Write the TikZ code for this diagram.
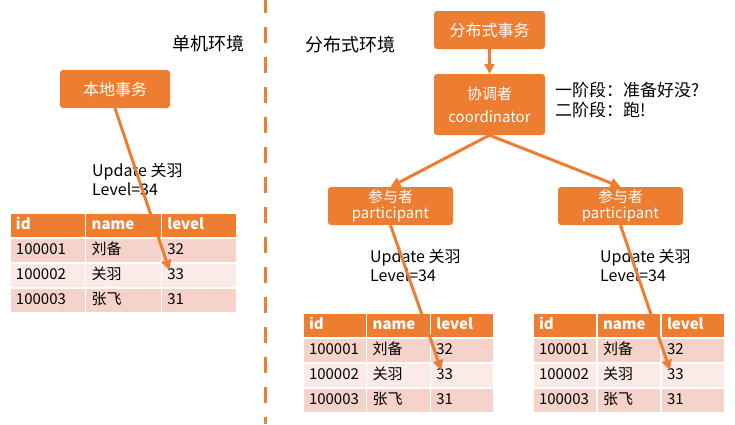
\documentclass[tikz,border=0pt]{standalone}
\usepackage{fontspec}
\setmainfont{Noto Sans CJK SC}
\usepackage{tikz}
\usetikzlibrary{positioning,arrows.meta,calc}

\definecolor{orange1}{HTML}{ED7D31}
\definecolor{rowA}{HTML}{F5D3CA}
\definecolor{rowB}{HTML}{FBEAE6}

% one table of heroes: name, left, top, column width, text width
\newcommand{\herotable}[5]{%
  \foreach \r/\a/\b/\c/\s in {0/id/name/level/hdrcell, 1/100001/刘备/32/rowa,
                              2/100002/关羽/33/rowb, 3/100003/张飞/31/rowa}{
    \node[cell, \s, minimum width=#4, text width=#5] (#1-\r-1) at ({#2}, {#3+\r*25}) {\a};
    \node[cell, \s, minimum width=#4, text width=#5, right=0pt of #1-\r-1] (#1-\r-2) {\b};
    \node[cell, \s, minimum width=#4, text width=#5, right=0pt of #1-\r-2] (#1-\r-3) {\c};
  }}

\begin{document}
\begin{tikzpicture}[
  x=1pt, y=-1pt,
  font=\fontsize{16}{19}\selectfont,
  box/.style={fill=orange1, rounded corners=3pt, text=white, align=center,
              minimum width=111, minimum height=38, inner sep=2pt},
  cell/.style={anchor=north west, draw=white, line width=1.5, minimum height=25,
               inner xsep=6, inner ysep=0, outer sep=0, align=left,
               text height=11, text depth=3,
               font=\fontsize{15}{17}\selectfont},
  hdrcell/.style={fill=orange1, text=white, font=\bfseries\fontsize{15}{17}\selectfont},
  rowa/.style={fill=rowA},
  rowb/.style={fill=rowB},
  arr/.style={-{Triangle[length=10pt,width=10pt]}, line width=3, orange1},
  note/.style={anchor=west, align=left, inner sep=0},
  envlabel/.style={note, font=\fontsize{18}{20}\selectfont},
]
\useasboundingbox (0,0) rectangle (735,424);

% divider
\draw[orange1, line width=3, dash pattern=on 16pt off 14pt, dash phase=3pt]
  (265.5,0) -- (265.5,424);

\node[envlabel] (single) at (172,44) {单机环境};
\node[envlabel] (distrib) at (305,45) {分布式环境};

% single machine
\node[box, minimum width=110] (local) at (115,89) {本地事务};
\node[note] (lupd) at (92,179) {Update 关羽\\Level=34};
\herotable{L}{10}{213}{75.7}{63.7}
\coordinate (ltip) at ($(L-2-3.north west)+(8,7)$);
\draw[arr] (local.south) -- (ltip);

% distributed
\node[box] (dist) at (489.5,30) {分布式事务};
\node[box, minimum height=61, font=\fontsize{15}{18}\selectfont] (coord) at (489.5,104.5)
  {协调者\\[5pt]coordinator};
\node[note, font=\fontsize{17}{20}\selectfont] (phase) at (555,100)
  {一阶段：准备好没?\\二阶段：跑!};
\node[box, minimum width=125, font=\fontsize{15}{16}\selectfont] (p1) at (390.5,206)
  {参与者\\participant};
\node[box, minimum width=125, font=\fontsize{15}{16}\selectfont] (p2) at (620.5,206)
  {参与者\\participant};
\draw[arr] (dist.south) -- (coord.north);
\draw[arr] (coord.south) -- (p1.north);
\draw[arr] (coord.south) -- (p2.north);

\node[note] (mupd) at (370,265) {Update 关羽\\Level=34};
\node[note] (rupd) at (600,265) {Update 关羽\\Level=34};
\herotable{M}{303}{313}{63.7}{51.7}
\herotable{R}{533}{313}{64}{52}
\coordinate (mtip) at ($(M-2-3.north west)+(11,7)$);
\coordinate (rtip) at ($(R-2-3.north west)+(9,7)$);
\draw[arr] (p1.south) -- (mtip);
\draw[arr] (p2.south) -- (rtip);
\end{tikzpicture}
\end{document}
